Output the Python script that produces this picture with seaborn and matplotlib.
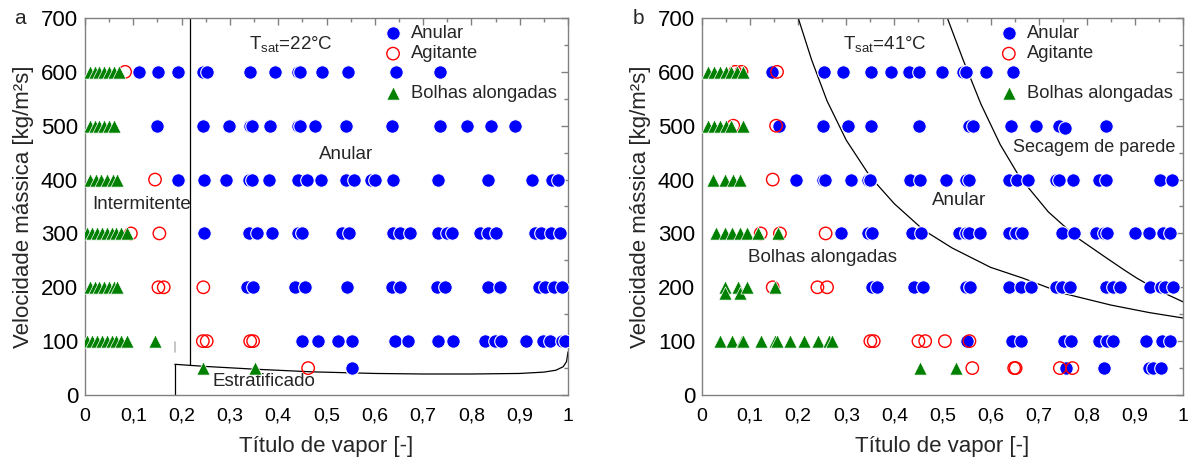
import matplotlib
matplotlib.use("Agg")
import matplotlib.pyplot as plt
import seaborn as sns
import numpy as np
from matplotlib.ticker import MultipleLocator, FuncFormatter

sns.set_theme(style="white")
plt.rcParams['font.family'] = ['Liberation Sans', 'DejaVu Sans']
plt.rcParams['mathtext.default'] = 'regular'

# ---------------- Panel a: Tsat = 22 C ----------------
a_anular_x = [0.112, 0.152, 0.193, 0.245, 0.252, 0.342, 0.393, 0.442, 0.445, 0.491, 0.544, 0.644, 0.735,
              0.150, 0.244, 0.298, 0.342, 0.345, 0.383, 0.442, 0.445, 0.476, 0.540, 0.636, 0.735, 0.790, 0.841, 0.890,
              0.193, 0.247, 0.291, 0.340, 0.345, 0.381, 0.442, 0.459, 0.488, 0.540, 0.556, 0.593, 0.600, 0.637, 0.731, 0.835, 0.925, 0.966, 0.980,
              0.247, 0.340, 0.357, 0.388, 0.440, 0.450, 0.533, 0.547, 0.638, 0.652, 0.673, 0.730, 0.749, 0.759, 0.817, 0.835, 0.850, 0.932, 0.945, 0.965, 0.983,
              0.335, 0.348, 0.435, 0.455, 0.542, 0.635, 0.652, 0.729, 0.745, 0.835, 0.859, 0.939, 0.952, 0.970, 0.987,
              0.449, 0.483, 0.524, 0.552, 0.642, 0.669, 0.731, 0.762, 0.828, 0.849, 0.862, 0.914, 0.949, 0.963, 0.987, 0.994,
              0.552]
a_anular_g = [600]*13 + [500]*15 + [400]*19 + [300]*21 + [200]*15 + [100]*16 + [50]

a_agit_x = [0.083, 0.145, 0.095, 0.154, 0.152, 0.163, 0.245, 0.244, 0.252, 0.342, 0.348, 0.462]
a_agit_g = [600, 400, 300, 300, 200, 200, 200, 100, 100, 100, 100, 50]

a_bolhas_x = [0.010, 0.020, 0.030, 0.040, 0.050, 0.060, 0.070,
              0.010, 0.020, 0.030, 0.040, 0.050, 0.060,
              0.010, 0.022, 0.034, 0.046, 0.058, 0.066,
              0.005, 0.015, 0.025, 0.035, 0.045, 0.055, 0.065, 0.075, 0.086,
              0.010, 0.020, 0.030, 0.040, 0.050, 0.060, 0.066,
              0.005, 0.015, 0.025, 0.035, 0.045, 0.055, 0.065, 0.075, 0.086, 0.145,
              0.245, 0.352]
a_bolhas_g = [600]*7 + [500]*6 + [400]*6 + [300]*9 + [200]*7 + [100]*10 + [50, 50]

# transition lines panel a
a_vert_x = [0.217, 0.217]
a_vert_g = [700, 55]
a_strat_x = [0.186, 0.25, 0.35, 0.47, 0.60, 0.70, 0.80, 0.90, 0.95, 0.975, 0.99, 0.997, 1.0]
a_strat_g = [57, 53, 48, 43, 40, 39, 39, 40, 42.5, 46, 52.5, 62, 80]
a_int_x = [0.186, 0.186]
a_int_g = [0, 57]
a_gray_x = [0.186, 0.186]
a_gray_g = [80, 99]

# ---------------- Panel b: Tsat = 41 C ----------------
b_anular_x = [0.145, 0.253, 0.294, 0.351, 0.392, 0.430, 0.451, 0.499, 0.543, 0.548, 0.591, 0.646,
              0.161, 0.251, 0.303, 0.352, 0.451, 0.556, 0.563, 0.643, 0.694, 0.742, 0.839,
              0.196, 0.251, 0.256, 0.310, 0.345, 0.349, 0.433, 0.454, 0.508, 0.548, 0.555, 0.638, 0.654, 0.678, 0.735, 0.742, 0.771, 0.826, 0.840, 0.952, 0.978,
              0.289, 0.345, 0.353, 0.4375, 0.455, 0.534, 0.548, 0.556, 0.578, 0.638, 0.652, 0.666, 0.749, 0.774, 0.820, 0.835, 0.842, 0.900, 0.929, 0.958, 0.972,
              0.353, 0.364, 0.440, 0.460, 0.548, 0.558, 0.638, 0.664, 0.685, 0.737, 0.749, 0.765, 0.840, 0.854, 0.869, 0.931, 0.955, 0.963, 0.979,
              0.551, 0.645, 0.663, 0.753, 0.767, 0.826, 0.842, 0.854, 0.924, 0.957, 0.973,
              0.756, 0.836, 0.930, 0.937, 0.954,
              0.754]
b_anular_g = [600]*12 + [500]*11 + [400]*21 + [300]*21 + [200]*19 + [100]*11 + [50]*5 + [495]

b_agit_x = [0.069, 0.082, 0.156, 0.065, 0.154, 0.147, 0.122, 0.162, 0.257, 0.147, 0.240, 0.260,
            0.350, 0.357, 0.450, 0.464, 0.505, 0.556, 0.562, 0.649, 0.652, 0.744, 0.770]
b_agit_g = [600, 600, 600, 500, 500, 400, 300, 300, 300, 200, 200, 200,
            100, 100, 100, 100, 100, 100, 50, 50, 50, 50, 50]

b_bolhas_x = [0.013, 0.025, 0.037, 0.049, 0.061, 0.073, 0.085,
              0.013, 0.025, 0.037, 0.049, 0.061, 0.085,
              0.022, 0.048, 0.064, 0.079,
              0.030, 0.048, 0.062, 0.079, 0.094, 0.117, 0.157,
              0.048, 0.048, 0.075, 0.080, 0.094, 0.152,
              0.0375, 0.062, 0.083, 0.086, 0.122, 0.152, 0.156, 0.183, 0.213, 0.242, 0.263, 0.270,
              0.454, 0.528]
b_bolhas_g = [600]*7 + [500]*6 + [400]*4 + [300]*7 + [200, 190, 200, 190, 200, 200] + [100]*12 + [50, 50]

# transition lines panel b
b_curve1_x = [0.200, 0.228, 0.260, 0.300, 0.350, 0.400, 0.461, 0.520, 0.600, 0.667, 0.750, 0.850, 0.930, 1.000]
b_curve1_g = [700, 622, 546, 473, 405, 355, 306, 273, 237, 217, 189, 167, 153, 143]
b_curve2_x = [0.510, 0.543, 0.580, 0.620, 0.660, 0.720, 0.780, 0.840, 0.878, 0.904, 0.947, 1.000]
b_curve2_g = [700, 622, 540, 465, 405, 340, 292, 255, 232, 217, 195, 173]

BLUE = "#0000FF"
RED = "#FF0000"
GREEN = "#008000"
GRAY = "#808080"

fig = plt.figure(figsize=(11.9, 4.65), dpi=100)
axA = fig.add_axes([85/1190, 1-395/465, (568-85)/1190, (395-18)/465])
axB = fig.add_axes([702/1190, 1-395/465, (1183-702)/1190, (395-18)/465])


def draw_points(ax, ax_x, ax_g, ag_x, ag_g, bo_x, bo_g):
    sns.scatterplot(x=ax_x, y=ax_g, ax=ax, marker='o', s=95, color=BLUE,
                    edgecolor='white', linewidth=0.8, label='Anular', zorder=3)
    sns.scatterplot(x=ag_x, y=ag_g, ax=ax, marker='o', s=80, facecolor='none',
                    edgecolor=RED, linewidth=1.0, label='Agitante', zorder=4)
    sns.scatterplot(x=bo_x, y=bo_g, ax=ax, marker='^', s=90, color=GREEN,
                    edgecolor='white', linewidth=0.5, label='Bolhas alongadas', zorder=5)


def style_axes(ax, letter, letter_x):
    ax.set_xlim(0, 1)
    ax.set_ylim(0, 700)
    ax.xaxis.set_major_locator(MultipleLocator(0.1))
    ax.xaxis.set_minor_locator(MultipleLocator(0.05))
    ax.yaxis.set_major_locator(MultipleLocator(100))
    ax.yaxis.set_minor_locator(MultipleLocator(50))
    ax.xaxis.set_major_formatter(FuncFormatter(lambda v, p: ('%g' % round(v, 2)).replace('.', ',')))
    ax.tick_params(which='both', direction='in', top=True, right=True, color=GRAY,
                   labelcolor='black')
    ax.tick_params(which='major', length=5, width=1)
    ax.tick_params(which='minor', length=3, width=1)
    ax.tick_params(axis='x', which='major', pad=9, labelsize=14)
    ax.tick_params(axis='y', which='major', pad=5, labelsize=16)
    for sp in ax.spines.values():
        sp.set_color(GRAY)
        sp.set_linewidth(1.0)
    ax.set_xlabel('Título de vapor [-]', fontsize=16, labelpad=8)
    ax.set_ylabel('Velocidade mássica [kg/m²s]', fontsize=16, labelpad=5)
    ax.text(letter_x, 1.0, letter, transform=ax.transAxes, fontsize=15, ha='center', va='center')
    handles, labels = ax.get_legend_handles_labels()
    leg_kw = dict(frameon=False, fontsize=13.2, handletextpad=0.4, borderpad=0,
                  borderaxespad=0, handlelength=1.2)
    leg1 = ax.legend(handles[:2], labels[:2], loc='upper left', bbox_to_anchor=(0.615, 0.982),
                     labelspacing=0.2, **leg_kw)
    ax.add_artist(leg1)
    ax.legend(handles[2:], labels[2:], loc='center left', bbox_to_anchor=(0.615, 0.801), **leg_kw)
    ax.grid(False)


# Panel a
draw_points(axA, a_anular_x, a_anular_g, a_agit_x, a_agit_g, a_bolhas_x, a_bolhas_g)
for xs, gs in [(a_vert_x, a_vert_g), (a_strat_x, a_strat_g), (a_int_x, a_int_g)]:
    sns.lineplot(x=xs, y=gs, ax=axA, color='black', lw=0.9, sort=False, estimator=None, legend=False, zorder=2)
sns.lineplot(x=a_gray_x, y=a_gray_g, ax=axA, color='#BBBBBB', lw=1.2, sort=False,
             estimator=None, legend=False, zorder=2)
axA.text(0.34, 652, 'T$_{sat}$=22°C', fontsize=13.5, ha='left', va='center')
axA.text(0.015, 353, 'Intermitente', fontsize=13.5, ha='left', va='center')
axA.text(0.485, 446, 'Anular', fontsize=13.5, ha='left', va='center')
axA.text(0.263, 25, 'Estratificado', fontsize=13.5, ha='left', va='center')
style_axes(axA, 'a', -0.135)

# Panel b
draw_points(axB, b_anular_x, b_anular_g, b_agit_x, b_agit_g, b_bolhas_x, b_bolhas_g)
for xs, gs in [(b_curve1_x, b_curve1_g), (b_curve2_x, b_curve2_g)]:
    sns.lineplot(x=xs, y=gs, ax=axB, color='black', lw=0.9, sort=False, estimator=None, legend=False, zorder=2)
axB.text(0.294, 652, 'T$_{sat}$=41°C', fontsize=13.5, ha='left', va='center')
axB.text(0.478, 362, 'Anular', fontsize=13.5, ha='left', va='center')
axB.text(0.096, 256, 'Bolhas alongadas', fontsize=13.5, ha='left', va='center')
axB.text(0.646, 459, 'Secagem de parede', fontsize=13, ha='left', va='center')
style_axes(axB, 'b', -0.133)

fig.savefig('out.png', dpi=100)
